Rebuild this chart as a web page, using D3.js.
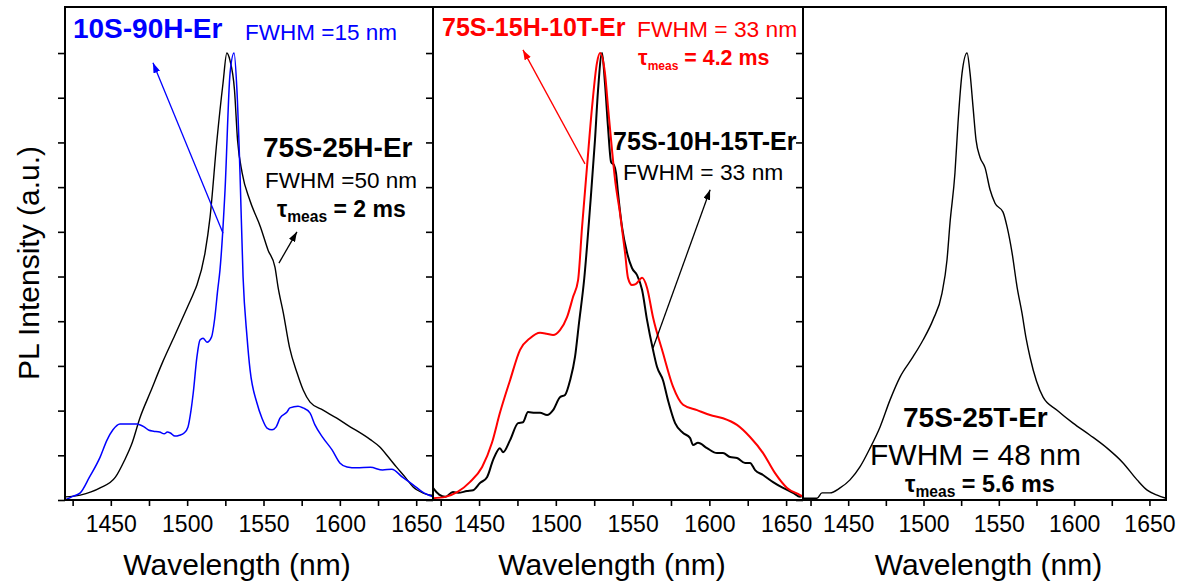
<!DOCTYPE html>
<meta charset="utf-8">
<style>
body { margin: 0; background: #fff; }
svg { display: block; font-family: "Liberation Sans", Arial, sans-serif; }
.frame { fill: none; stroke: #000; stroke-width: 2px; }
.axis path { display: none; }
.axis line { stroke: #000; stroke-width: 1.6px; }
.axis text { font-size: 23px; fill: #000; font-family: "Liberation Sans", Arial, sans-serif; }
.line { fill: none; stroke-linejoin: round; }
.title { font-size: 30px; fill: #000; }
</style>
<svg width="1185" height="585"></svg>
<script src="https://d3js.org/d3.v7.min.js"></script>
<script>
// PL spectra: [wavelength nm, normalised intensity]
var s75S25H = [[1420,0.007],[1430,0.011],[1443,0.027],[1453,0.051],[1459,0.089],[1464,0.128],[1469,0.183],
  [1476,0.242],[1484,0.309],[1492,0.369],[1500,0.43],[1504,0.461],[1506.4,0.481],[1511.7,0.553],[1515,0.633],
  [1519.5,0.805],[1523.5,0.933],[1526,1.0],[1528,0.984],[1531,0.917],[1533,0.805],[1536,0.732],[1541,0.671],
  [1548,0.611],[1553,0.559],[1557.5,0.521],[1559.5,0.477],[1563,0.418],[1567,0.342],[1572,0.284],[1576,0.246],
  [1580.5,0.219],[1589,0.201],[1598,0.183],[1607,0.163],[1611,0.155],[1620,0.135],[1626,0.119],[1632,0.095],
  [1637,0.074],[1643,0.05],[1648,0.029],[1655,0.015],[1661,0.01]];

var s10S90H = [[1420,0.0],[1425,0.008],[1430,0.016],[1436,0.051],[1443,0.096],[1447.5,0.134],[1451.4,0.157],
  [1456,0.17],[1467,0.17],[1472,0.163],[1475,0.156],[1478,0.154],[1482,0.152],[1485,0.148],[1487,0.152],
  [1489,0.15],[1492,0.143],[1495,0.145],[1498,0.15],[1500.5,0.163],[1502.5,0.2],[1504,0.24],[1506.4,0.32],
  [1508.4,0.358],[1510.4,0.362],[1513,0.353],[1516,0.365],[1518,0.405],[1520,0.47],[1521.5,0.515],
  [1524.8,0.693],[1528.1,0.955],[1530.7,1.0],[1532.6,0.917],[1534.6,0.732],[1536.6,0.5],[1539.2,0.365],
  [1541.2,0.291],[1545.7,0.217],[1549,0.183],[1552.3,0.161],[1555.6,0.157],[1558.2,0.163],[1560.8,0.183],
  [1565.4,0.197],[1567.3,0.206],[1572.6,0.21],[1575.9,0.206],[1580.4,0.195],[1583.7,0.168],[1589,0.139],
  [1594.9,0.112],[1600,0.083],[1604.7,0.074],[1611,0.072],[1620,0.073],[1628,0.067],[1634,0.069],
  [1641,0.051],[1648,0.034],[1654,0.018],[1661,0.007]];

var s75S15H10T = [[1420,0.004],[1428,0.007],[1436,0.018],[1444,0.04],[1452,0.074],[1458.4,0.128],
  [1463.6,0.195],[1470.2,0.268],[1476.7,0.336],[1483.2,0.362],[1489.7,0.374],[1494,0.372],[1498.2,0.369],
  [1502.7,0.38],[1507.3,0.409],[1511.2,0.454],[1514.5,0.492],[1517.1,0.611],[1520.3,0.745],[1523.6,0.879],
  [1526.8,0.978],[1528.8,1.0],[1532,0.955],[1534,0.879],[1536.6,0.783],[1538.6,0.716],[1541.8,0.642],
  [1545.1,0.553],[1547,0.497],[1549.6,0.481],[1552,0.483],[1556.2,0.497],[1559.4,0.475],[1563.3,0.409],
  [1569.8,0.329],[1576.4,0.253],[1582.9,0.213],[1592,0.201],[1600.5,0.19],[1608.9,0.183],[1618,0.168],
  [1626.5,0.141],[1635,0.105],[1642.8,0.06],[1650.6,0.027],[1659.1,0.011],[1661,0.007]];

var s75S10H15T = [[1420,0.027],[1424,0.012],[1428,0.007],[1433,0.018],[1436.3,0.016],[1442.1,0.02],
  [1446.1,0.022],[1450.6,0.038],[1455.2,0.051],[1459.1,0.089],[1463.6,0.116],[1465.6,0.107],[1470.2,0.134],
  [1475.4,0.172],[1478.6,0.174],[1481.9,0.197],[1486.4,0.195],[1489.7,0.195],[1494.3,0.19],[1498.2,0.201],
  [1502.7,0.23],[1506,0.235],[1509.3,0.268],[1512.5,0.32],[1515.1,0.396],[1518.5,0.495],[1522.3,0.655],
  [1525.5,0.805],[1527.5,0.917],[1530.1,1.0],[1532,0.933],[1534,0.834],[1536,0.756],[1537.9,0.749],
  [1539.2,0.732],[1540.5,0.687],[1543.1,0.611],[1546.4,0.553],[1549.6,0.519],[1552.9,0.503],[1556.2,0.47],
  [1559.4,0.403],[1563.3,0.336],[1565.9,0.298],[1569.8,0.268],[1573,0.224],[1577.7,0.172],[1582.9,0.15],
  [1587.4,0.139],[1589.4,0.123],[1592.6,0.128],[1598.5,0.116],[1605,0.105],[1608.9,0.105],[1613.5,0.096],
  [1618,0.094],[1623.3,0.083],[1626.5,0.083],[1629.8,0.067],[1635,0.056],[1641.5,0.04],[1648,0.027],
  [1654.5,0.016],[1659.1,0.007],[1661,0.011]];

var s75S25T = [[1420,0.004],[1429.3,0.004],[1432.6,0.016],[1437.9,0.016],[1444.6,0.027],[1451.2,0.045],
  [1457.8,0.074],[1464.5,0.116],[1471.1,0.163],[1477.8,0.224],[1484.4,0.275],[1493,0.32],[1499.7,0.358],
  [1506.3,0.403],[1512.3,0.463],[1515.6,0.537],[1517.6,0.62],[1520.9,0.732],[1522.9,0.843],[1525.6,0.955],
  [1528.9,1.0],[1530.9,0.955],[1532.9,0.879],[1534.9,0.805],[1537.5,0.767],[1540.9,0.743],[1544.2,0.694],
  [1547.5,0.664],[1552.8,0.644],[1555.5,0.611],[1558.8,0.553],[1562.1,0.477],[1565.4,0.418],[1568.1,0.362],
  [1570.7,0.32],[1579.4,0.23],[1588.7,0.201],[1599.3,0.172],[1610.6,0.145],[1621.9,0.116],[1632.5,0.083],
  [1641.8,0.045],[1648.5,0.022],[1655.1,0.011],[1661,0.004]];

var xTicks = d3.range(1425, 1651, 25);
var yTicks = d3.range(0, 1.001, 0.1);
var blue = "#0000ff", red = "#ff0000", black = "#000";

var panels = [
  { left: 65, right: 433, labelShift: -12,
    series: [{ data: s75S25H, color: black, width: 1.4 }, { data: s10S90H, color: blue, width: 1.5 }],
    notes: [
      { text: "10S-90H-Er", at: [1425.2, 1.034], size: 28, bold: true, color: blue },
      { text: "FWHM =15 nm", at: [1537.9, 1.029], size: 22.5, color: blue },
      { text: "75S-25H-Er", at: [1549.7, 0.767], size: 28, bold: true, color: black },
      { text: "FWHM =50 nm", at: [1551, 0.698], size: 22.5, color: black },
      { tau: " = 2 ms", at: [1558.8, 0.633], size: 23, sub: 15.6, color: black }
    ],
    arrows: [
      { from: [1523.5, 0.597], to: [1477.6, 0.978], color: blue },
      { from: [1560.1, 0.53], to: [1571.9, 0.6], color: black }
    ] },
  { left: 433, right: 803, labelShift: -6,
    series: [{ data: s75S10H15T, color: black, width: 2 }, { data: s75S15H10T, color: red, width: 2 }],
    notes: [
      { text: "75S-15H-10T-Er", at: [1425.9, 1.038], size: 25, bold: true, color: red },
      { text: "FWHM = 33 nm", at: [1552.9, 1.036], size: 22.8, color: red },
      { tau: " = 4.2 ms", at: [1553.6, 0.973], size: 21.4, sub: 12, color: red },
      { text: "75S-10H-15T-Er", at: [1537.3, 0.783], size: 25, bold: true, color: black },
      { text: "FWHM = 33 nm", at: [1543.8, 0.716], size: 22.8, color: black }
    ],
    arrows: [
      { from: [1519, 0.752], to: [1478.6, 1.007], color: red },
      { from: [1563.3, 0.34], to: [1600.5, 0.694], color: black }
    ] },
  { left: 803, right: 1166, labelShift: 4,
    series: [{ data: s75S25T, color: black, width: 1.4 }],
    notes: [
      { text: "75S-25T-Er", at: [1486.4, 0.163], size: 28, bold: true, color: black },
      { text: "FWHM = 48 nm", at: [1464.5, 0.078], size: 30, color: black },
      { tau: " = 5.6 ms", at: [1487.7, 0.018], size: 23.4, sub: 15.6, color: black }
    ],
    arrows: [] }
];

var svg = d3.select("svg"),
    plotTop = 7, plotBottom = 500;

var y = d3.scaleLinear().domain([0, 1.103]).range([plotBottom, plotTop]);

var defs = svg.append("defs");
[["blue", blue], ["red", red], ["black", black]].forEach(function(c) {
  defs.append("marker")
      .attr("id", "head-" + c[0])
      .attr("markerUnits", "userSpaceOnUse")
      .attr("viewBox", "0 0 10 7")
      .attr("refX", 10).attr("refY", 3.5)
      .attr("markerWidth", 10).attr("markerHeight", 7)
      .attr("orient", "auto")
    .append("path")
      .attr("d", "M0,0L10,3.5L0,7Z")
      .attr("fill", c[1]);
});
var headId = function(col) { return col === blue ? "head-blue" : col === red ? "head-red" : "head-black"; };

panels.forEach(function(p) {
  var x = d3.scaleLinear().domain([1420, 1661]).range([p.left, p.right]);
  var g = svg.append("g");

  var line = d3.line()
      .x(function(d) { return x(d[0]); })
      .y(function(d) { return y(d[1]); })
      .curve(d3.curveMonotoneX);

  p.series.forEach(function(s) {
    g.append("path")
        .datum(s.data)
        .attr("class", "line")
        .attr("stroke", s.color)
        .attr("stroke-width", s.width)
        .attr("d", line);
  });

  g.append("g")
      .attr("class", "axis")
      .attr("transform", "translate(0," + plotBottom + ")")
      .call(d3.axisBottom(x).tickValues(xTicks)
        .tickFormat(function(d) { return d % 50 === 0 ? d : ""; })
        .tickSize(6).tickPadding(10));

  g.append("g")
      .attr("class", "axis")
      .attr("transform", "translate(" + p.left + ",0)")
      .call(d3.axisLeft(y).tickValues(yTicks).tickFormat("").tickSize(7));

  g.append("rect")
      .attr("class", "frame")
      .attr("x", p.left).attr("y", plotTop)
      .attr("width", p.right - p.left).attr("height", plotBottom - plotTop);

  p.arrows.forEach(function(a) {
    g.append("line")
        .attr("x1", x(a.from[0])).attr("y1", y(a.from[1]))
        .attr("x2", x(a.to[0])).attr("y2", y(a.to[1]))
        .attr("stroke", a.color).attr("stroke-width", 1.3)
        .attr("marker-end", "url(#" + headId(a.color) + ")");
  });

  p.notes.forEach(function(n) {
    var t = g.append("text")
        .attr("x", x(n.at[0])).attr("y", y(n.at[1]))
        .attr("fill", n.color)
        .style("font-size", n.size + "px")
        .style("font-weight", n.bold || n.tau ? "bold" : "normal");
    if (n.tau) {
      t.append("tspan").text("\u03c4");
      t.append("tspan").attr("dy", 5).style("font-size", n.sub + "px").text("meas");
      t.append("tspan").attr("dy", -5).text(n.tau);
    } else {
      t.text(n.text);
    }
  });

  svg.append("text")
      .attr("class", "title")
      .attr("x", (p.left + p.right) / 2 + p.labelShift)
      .attr("y", 575)
      .attr("text-anchor", "middle")
      .text("Wavelength (nm)");
});

svg.append("text")
    .attr("class", "title")
    .attr("transform", "translate(39,263) rotate(-90)")
    .attr("text-anchor", "middle")
    .text("PL Intensity (a.u.)");
</script>
